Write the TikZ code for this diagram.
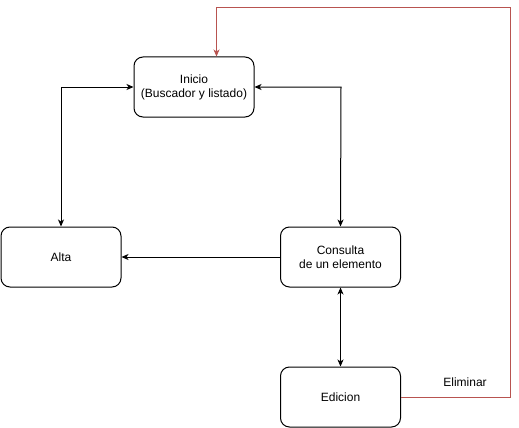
\documentclass[tikz,border=0pt]{standalone}
\usepackage{fontspec}
\setmainfont{Liberation Sans}
\usetikzlibrary{arrows.meta}
\definecolor{redline}{HTML}{B85450}
\begin{document}
\begin{tikzpicture}[x=1pt,y=-1pt,
  box/.style={draw=black, line width=1pt, rounded corners=9pt, minimum width=120pt, minimum height=60pt, align=center, font=\fontsize{12}{14}\selectfont, inner sep=0pt},
  conn/.style={line width=1pt, -{Stealth[length=7pt,width=6pt,inset=2pt]}},
  conn2/.style={line width=1pt, {Stealth[length=7pt,width=6pt,inset=2pt]}-{Stealth[length=7pt,width=6pt,inset=2pt]}}]
\useasboundingbox (0,0) rectangle (519,428);
\node[box] (inicio) at (194,87) {Inicio\\(Buscador y listado)};
\node[box] (alta) at (61,257) {Alta};
\node[box] (consulta) at (340.5,257) {Consulta\\de un elemento};
\node[box] (edicion) at (340.5,397) {Edicion};
\coordinate (c1) at (61,87);
\coordinate (c2) at (341,87);
\draw[conn2] (inicio.west) -- (c1) -- (alta.north);
\draw[conn2] (inicio.east) -- (c2) -- (consulta.north);
\draw[conn] (consulta.west) -- (alta.east);
\draw[conn2] (consulta.south) -- (edicion.north);
\coordinate (r1) at (510.5,397);
\coordinate (r2) at (510.5,7.5);
\coordinate (r3) at (216.5,7.5);
\draw[conn, draw=redline, color=redline] (edicion.east) -- (r1) -- (r2) -- (r3) -- (r3 |- inicio.north);
\node[font=\fontsize{12}{14}\selectfont] (elim) at (465,382) {Eliminar};
\end{tikzpicture}
\end{document}
